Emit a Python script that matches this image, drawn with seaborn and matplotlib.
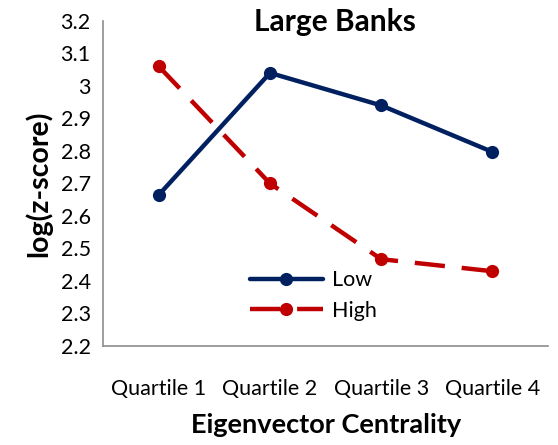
import numpy as np
import pandas as pd
import matplotlib
matplotlib.use("Agg")
import matplotlib.pyplot as plt
import seaborn as sns

categories = ["Quartile 1", "Quartile 2", "Quartile 3", "Quartile 4"]
low_values = [2.665, 3.04, 2.94, 2.797]
high_values = [3.06, 2.70, 2.467, 2.43]
series_names = ["Low", "High"]
y_ticks = [2.2, 2.3, 2.4, 2.5, 2.6, 2.7, 2.8, 2.9, 3.0, 3.1, 3.2]
y_tick_labels = ["2.2", "2.3", "2.4", "2.5", "2.6", "2.7", "2.8", "2.9", "3", "3.1", "3.2"]

df = pd.DataFrame({
    "quartile": categories * 2,
    "value": low_values + high_values,
    "group": [series_names[0]] * 4 + [series_names[1]] * 4,
})

sns.set_style("white")
plt.rcParams["font.family"] = ["Lato", "DejaVu Sans"]
plt.rcParams["text.color"] = "black"
plt.rcParams["axes.labelcolor"] = "black"
plt.rcParams["xtick.color"] = "black"
plt.rcParams["ytick.color"] = "black"

navy = "#002060"
red = "#C00000"
gray = "#8C8C8C"

fig = plt.figure(figsize=(5.58, 4.45), dpi=100)
ax = fig.add_axes([0.185, 0.2225, 0.797, 0.7305])

sns.lineplot(
    data=df, x="quartile", y="value", hue="group", style="group",
    palette={"Low": navy, "High": red},
    dashes={"Low": "", "High": (6.8, 3.8)},
    markers={"Low": "o", "High": "o"},
    markersize=9.5, markeredgewidth=0, linewidth=3.2,
    sort=False, ax=ax,
)

ax.set_xlim(-0.5, 3.5)
ax.set_ylim(2.2, 3.2)
ax.set_yticks(y_ticks)
ax.set_yticklabels(y_tick_labels, fontsize=15.5)

# category labels in the middle, tick marks on the boundaries
ax.set_xticks(range(len(categories)))
ax.set_xticklabels(categories, fontsize=15.5)
ax.set_xticks(np.arange(-0.5, len(categories), 1.0), minor=True)
ax.tick_params(axis="x", which="major", length=0, pad=24, colors="black")
ax.tick_params(axis="x", which="minor", length=5, width=1.2, color=gray, direction="out")
ax.tick_params(axis="y", which="major", length=5, width=1.2, color=gray, labelcolor="black",
               direction="out", pad=4)

for side in ["top", "right"]:
    ax.spines[side].set_visible(False)
for side in ["left", "bottom"]:
    ax.spines[side].set_color(gray)
    ax.spines[side].set_linewidth(1.2)

ax.set_xlabel("Eigenvector Centrality", fontsize=19.5, fontweight="bold", labelpad=10)
ax.set_ylabel("log(z-score)", fontsize=20.5, fontweight="bold", labelpad=6)
ax.text(0.52, 0.997, "Large Banks", transform=ax.transAxes, ha="center", va="center",
        fontsize=21.5, fontweight="bold")

leg = ax.legend(title=None, loc="center left", bbox_to_anchor=(0.31, 0.155),
                frameon=False, fontsize=15.5, handlelength=3.4, handletextpad=0.4,
                labelspacing=0.5, borderaxespad=0)

fig.savefig("out.png", dpi=100)
